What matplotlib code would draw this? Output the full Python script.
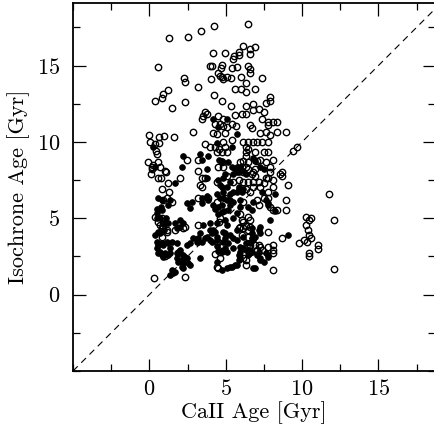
import matplotlib
matplotlib.use("Agg")
import matplotlib.pyplot as plt
from matplotlib.ticker import MultipleLocator, FixedLocator

# ---- data (Gyr) ----
open_x = [
 1.31, 2.56, 3.41, 4.26, 6.49, 0.59, 4.20, 4.98, 5.51, 5.57, 5.84, 5.90, 6.16, 6.62, 6.95, 6.62,
 4.00, 4.13, 4.79, 4.72, 5.44, 5.77, 6.49, 6.62, 6.62, 4.52, 4.66, 4.79, 4.85, 5.11, 5.38, 6.03,
 4.07, 7.41, 6.30, 2.30, 2.36, 3.21, 5.64, 6.03, 6.36, 6.89, 1.25, 0.92, 0.85, 0.39, 4.26, 4.79,
 2.36, 1.51, 7.93, 7.93, 7.61,
 5.38, 6.30, 6.82, 6.82, 7.15, 7.48, 6.36, 6.10, 5.64, 3.67, 3.80, 3.54, 3.48, 4.52, 4.85, 4.33,
 4.66, 4.85, 5.11, 5.44, 5.70, 6.62, 6.75, 7.41, 7.80, 8.13, 8.39, 7.74, 0.00, 0.66, 0.98, 1.64,
 2.89, 4.20, 4.46, 4.98, 7.28, 7.61, 7.93, 8.39, 8.98,
 0.07, 0.39, 0.66, 0.46, 0.52, 3.67, 4.00, 4.33, 4.59, 4.46, 4.79, 4.98, 5.11, 4.85, 5.44, 6.16,
 6.43, 6.30, 6.43, 6.82, 7.08, 7.41, 7.74, 6.95, 7.48, 7.74, 6.30, 6.30, 9.44, 9.70, 2.49, 3.21,
 -0.07, 0.26, 0.20, 0.59, 0.72, 0.13, 0.59, 0.79, 1.11, 0.20, 1.05, 1.25, 2.03, 3.21, 3.48, 3.67,
 3.34, 3.48, 4.52, 4.79, 4.85, 4.46, 5.11, 5.97, 6.16, 6.43, 6.10, 6.30, 6.49, 6.16, 7.08, 7.28,
 7.61, 8.13, 6.95, 6.82, 7.93, 7.93, 8.72, 8.72, 5.51, 5.84, 6.16, 6.49, 6.82, 7.15, 6.75, 6.95,
 7.61, 7.80, 8.13, 8.59, 7.48, 7.28, 8.13, 9.11,
 0.85, 1.18, 1.31, 1.51, 0.92, 3.21, 3.87, 4.46, 4.98, 6.62, 6.82, 6.30, 7.80, 7.74, 6.16, 7.08,
 7.15, 7.48, 7.93, 8.13, 8.39, 8.92, 8.92, 11.74, 0.39, 0.85, 0.59, 0.92, 0.72, 0.92, 1.18, 4.66,
 4.59, 6.43, 6.16, 5.97, 6.10, 6.30, 6.62, 5.97, 6.62, 2.36, 3.21, 10.23, 10.43, 10.23, 10.36,
 10.56, 12.07,
 0.85, 0.85, 1.18, 1.70, 2.23, 4.52, 4.79, 4.66, 4.66, 4.52, 4.33, 4.46, 5.84, 6.16, 6.43, 6.10,
 6.43, 6.95, 7.15, 7.28, 6.62, 6.16, 6.30, 6.30, 7.80, 8.13, 8.13, 8.13, 7.74, 8.72, 9.77, 10.10,
 10.43, 10.56, 10.30, 11.02, 11.02, 10.49, 10.49, 1.05, 0.33, 2.36, 8.13, 12.07, 7.08, 7.41,
]
open_y = [
 16.79, 16.85, 17.25, 17.57, 17.70, 14.89, 15.80, 15.80, 15.41, 15.61, 15.87, 15.67, 16.26, 16.07, 16.20, 15.74,
 14.95, 14.95, 15.02, 14.82, 14.82, 14.89, 14.95, 14.75, 14.49, 14.49, 14.30, 14.23, 14.10, 14.23, 14.16, 14.23,
 14.10, 14.16, 13.84, 14.16, 13.90, 13.57, 13.44, 13.44, 13.25, 13.44, 13.38, 13.11, 12.85, 12.66, 13.05, 12.66,
 12.59, 12.20, 12.92, 12.66, 12.52,
 12.33, 12.33, 12.46, 12.07, 12.13, 11.93, 11.80, 11.80, 11.74, 11.93, 11.80, 11.67, 11.48, 11.67, 11.48, 11.15,
 11.15, 11.02, 10.95, 11.15, 11.02, 11.08, 10.89, 11.48, 11.28, 11.28, 11.28, 11.08, 10.43, 10.30, 10.36, 10.30,
 10.62, 10.56, 10.49, 10.56, 10.56, 10.62, 10.43, 10.62, 10.62,
 9.97, 9.84, 9.90, 9.44, 9.18, 9.84, 9.70, 9.70, 9.57, 9.31, 9.31, 9.70, 9.31, 9.97, 10.16, 9.97,
 9.97, 9.64, 9.51, 9.97, 9.97, 9.97, 9.97, 9.31, 9.31, 9.31, 9.31, 9.05, 9.38, 9.64, 8.85, 8.85,
 8.66, 8.52, 8.33, 8.66, 8.39, 7.87, 7.67, 7.61, 8.00, 8.20, 8.07, 7.34, 7.67, 8.07, 7.67, 7.61,
 7.21, 7.08, 8.33, 8.66, 8.39, 7.41, 7.74, 8.66, 8.72, 8.66, 8.39, 8.33, 8.20, 8.00, 8.72, 8.85,
 8.66, 8.85, 8.20, 8.00, 8.33, 8.00, 8.00, 7.74, 7.41, 7.54, 7.41, 7.41, 7.41, 7.41, 7.87, 7.74,
 7.67, 7.67, 7.54, 7.87, 7.34, 7.08, 7.02, 7.21,
 6.89, 6.36, 6.69, 6.10, 6.23, 6.30, 6.36, 6.10, 6.36, 6.75, 7.02, 6.89, 6.69, 6.36, 6.10, 6.23,
 5.90, 6.36, 5.77, 5.57, 5.57, 6.23, 5.57, 6.62, 5.11, 5.05, 4.79, 4.72, 4.59, 4.46, 4.26, 5.05,
 4.79, 5.11, 4.79, 5.25, 4.92, 4.52, 4.46, 4.46, 4.92, 4.46, 4.59, 5.11, 4.92, 4.59, 4.26,
 5.05, 4.92,
 3.80, 4.39, 4.13, 4.26, 4.39, 3.48, 3.28, 2.82, 2.43, 1.77, 2.69, 1.84, 4.39, 4.39, 4.26, 3.93,
 3.80, 3.28, 3.28, 3.15, 3.28, 2.43, 2.30, 1.97, 3.15, 3.28, 2.95, 2.75, 4.13, 3.74, 3.41, 3.61,
 3.93, 3.74, 3.48, 3.28, 3.02, 2.75, 2.56, 2.56, 1.11, 1.18, 1.64, 1.70, 2.95, 2.95,
]

filled_x = [
 4.20, 5.11, 4.52, 5.77, 0.26, 4.46, 5.44, 2.23, 3.34, 3.48, 3.87, 4.59, 4.79, 5.18, 5.44, 5.64,
 5.77, 6.82, 6.95, 7.28, 7.48, 0.39, 2.16, 3.80, 3.80, 4.52, 4.66, 4.79, 4.85, 5.51, 5.31, 5.84,
 4.98, 5.11, 4.85, 5.31, 5.77, 5.97, 6.16, 5.84, 6.30, 5.84, 6.16, 5.51, 7.41, 8.26, 1.70,
 0.59, 0.85, 1.38, 1.25, 0.52, 0.79, 0.85, 0.52, 0.52, 0.72, 1.11, 1.05, 1.25, 0.72, 0.52, 0.59,
 0.92, 1.25, 2.49, 2.82, 2.69, 3.48, 3.48, 3.80, 3.87, 4.46, 4.66, 4.52, 4.20, 4.33, 4.79, 4.52,
 4.92, 5.31, 5.31, 5.51, 4.85, 5.11, 4.79, 5.77, 6.10, 5.97, 6.82, 7.80, 5.18, 5.77, 5.51, 5.97,
 6.49, 6.75, 7.61, 7.74, 8.26, 7.93, 4.98, 5.11, 7.28,
 1.84, 2.03, 1.70, 2.03, 2.23, 3.54, 4.00, 4.46, 4.20, 4.13, 3.34, 3.80, 4.00, 4.98, 5.31, 5.51,
 5.18, 4.85, 4.46, 4.46, 2.89, 3.15, 2.69, 2.49, 1.84, 2.03, 0.72, 1.05, 1.25, 4.52, 4.79, 5.51,
 5.97, 6.16, 6.43, 6.75, 7.08, 5.77, 6.75, 6.95, 6.82, 7.15, 7.28, 7.61, 9.11, 0.39, 0.59, 0.98,
 0.52, 0.59, 0.85, 0.92, 1.38, 1.84, 1.51, 1.18, 0.85, 3.21, 3.48, 3.67, 3.21, 2.03, 2.23, 2.36,
 2.49, 1.84, 1.90, 2.23, 2.16, 2.23, 2.56, 2.69, 1.51, 1.57, 1.70, 1.38, 3.34, 1.90, 2.16, 1.38,
 4.46, 4.79, 5.11, 5.44, 5.77, 5.84, 5.97, 6.30, 6.62, 6.49, 6.62, 6.95, 7.15, 7.28, 7.48, 7.80,
 4.00, 4.33, 4.46, 4.13, 4.85, 4.98, 4.98, 5.11, 5.77, 6.16, 6.75, 6.75, 6.30, 6.62, 5.97, 5.84,
 7.28, 7.74, 5.31, 5.64, 6.82,
]
filled_y = [
 11.48, 11.48, 10.95, 10.49, 9.70, 9.90, 9.70, 9.05, 9.18, 8.85, 9.05, 8.85, 8.72, 8.66, 8.33, 8.20,
 8.00, 8.98, 8.72, 8.33, 8.20, 8.39, 8.39, 8.20, 7.67, 7.54, 7.21, 7.02, 7.67, 7.87, 7.41, 7.08,
 7.87, 7.02, 6.69, 6.56, 8.39, 8.33, 8.07, 8.00, 7.87, 6.89, 6.89, 6.75, 6.75, 6.56, 7.34,
 6.30, 6.23, 6.23, 5.90, 5.64, 5.77, 5.57, 5.38, 5.05, 5.05, 5.05, 4.72, 4.66, 4.07, 3.48, 3.28,
 3.28, 3.41, 6.03, 6.10, 5.70, 6.36, 6.03, 6.43, 6.23, 6.56, 6.36, 5.77, 5.84, 5.64, 5.44, 5.25,
 5.51, 5.84, 6.23, 6.10, 6.36, 6.23, 5.90, 6.75, 6.75, 6.23, 6.10, 5.90, 5.57, 5.38, 5.05, 5.77,
 5.77, 5.57, 6.23, 6.03, 5.51, 4.92, 4.92, 4.59, 4.46,
 4.39, 4.92, 4.72, 4.46, 4.72, 4.59, 4.72, 4.72, 4.26, 4.07, 4.07, 3.80, 3.61, 4.07, 3.93, 3.74,
 3.41, 3.48, 3.61, 3.21, 3.74, 3.48, 3.41, 3.28, 3.41, 2.95, 2.82, 2.75, 2.62, 2.88, 2.82, 3.08,
 3.15, 3.08, 2.95, 2.82, 2.62, 4.26, 4.07, 3.80, 3.61, 4.26, 4.07, 2.75, 3.93, 3.93, 4.13, 4.26,
 3.08, 2.75, 2.62, 2.49, 2.75, 2.75, 3.48, 3.48, 3.41, 3.48, 3.48, 3.74, 3.74, 2.75, 2.62, 2.49,
 2.43, 2.43, 2.16, 2.10, 1.84, 1.77, 2.10, 1.97, 1.64, 1.44, 1.51, 1.31, 2.43, 2.82, 2.30, 3.08,
 2.16, 1.64, 1.77, 1.84, 1.97, 2.30, 2.49, 3.41, 2.75, 2.62, 3.41, 1.77, 2.82, 2.43, 2.16, 2.49,
 4.26, 4.13, 3.80, 3.48, 4.13, 3.74, 3.08, 2.82, 3.61, 3.80, 3.74, 4.39, 2.95, 2.95, 2.82, 2.62,
 2.30, 2.62, 1.84, 1.97, 1.77,
]

x_ticks = [0, 5, 10, 15]
y_ticks = [0, 5, 10, 15]
x_limits = (-5, 18.71)
y_limits = (-5, 19.1)
one_to_one = [-5, 25]

plt.rcParams['font.family'] = ['cmr10', 'DejaVu Serif']
plt.rcParams['axes.formatter.use_mathtext'] = True

fig = plt.figure(figsize=(4.35, 4.29), dpi=100)
ax = fig.add_axes([73/435, (429-371)/429, 362/435, 368/429])

ax.plot(one_to_one, one_to_one, color='black', lw=0.8, linestyle=(0, (6, 4.5)), zorder=1)
ax.plot(filled_x, filled_y, linestyle='none', marker='o', markersize=4.1,
        markerfacecolor='black', markeredgecolor='black', markeredgewidth=0.6, zorder=2)
ax.plot(open_x, open_y, linestyle='none', marker='o', markersize=4.6,
        markerfacecolor='none', markeredgecolor='black', markeredgewidth=1.0, zorder=3)

ax.set_xlim(*x_limits)
ax.set_ylim(*y_limits)
ax.xaxis.set_major_locator(FixedLocator(x_ticks))
ax.yaxis.set_major_locator(FixedLocator(y_ticks))
ax.xaxis.set_minor_locator(MultipleLocator(2.5))
ax.yaxis.set_minor_locator(MultipleLocator(2.5))
ax.tick_params(which='both', direction='in', top=True, right=True, width=0.9, colors='black')
ax.tick_params(which='major', length=9, labelsize=16)
ax.tick_params(which='minor', length=4.8)
ax.tick_params(axis='x', which='major', pad=6)
ax.tick_params(axis='y', which='major', pad=9)
for side in ['left', 'bottom', 'top', 'right']:
    ax.spines[side].set_linewidth(1.3)

ax.set_xlabel('CaII Age [Gyr]', fontsize=16, labelpad=1.5)
ax.set_ylabel('Isochrone Age [Gyr]', fontsize=16, labelpad=5)

fig.savefig('out.png', dpi=100)
